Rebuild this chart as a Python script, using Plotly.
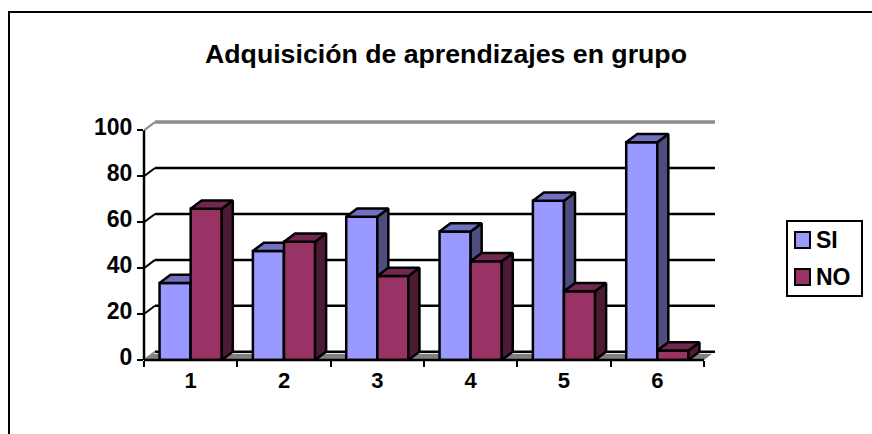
import plotly.graph_objects as go

TITLE = "Adquisición de aprendizajes en grupo"
categories = [1, 2, 3, 4, 5, 6]
si_values = [33.5, 47.5, 62.4, 56, 69.3, 94.8]
no_values = [65.9, 51.5, 36.6, 43, 29.9, 4.1]
y_ticks = [0, 20, 40, 60, 80, 100]

SI_COLORS = ("#9999FF", "#7070C0", "#4D4D80")
NO_COLORS = ("#993366", "#732650", "#4D1A33")

BAR_W = 1 / 3
DX = 0.118  # depth of the 3d look, in axis units
DY = 3.6
X_MIN, X_MAX = 0.5, 6.5
Y_TOP = 108  # head room so the top wall line is not clipped
LW = 2.5

# plot area in pixels
PLOT_L, PLOT_R, PLOT_T, PLOT_B = 144, 715, 112, 360


def px(x):
    return (x - PLOT_L) / (PLOT_R - PLOT_L)


def py(y):
    return (PLOT_B - y) / (PLOT_B - PLOT_T)


def top_face(left, values):
    xs, ys = [], []
    for c, v in zip(categories, values):
        x0 = c + left
        xs += [x0, x0 + DX, x0 + BAR_W + DX, x0 + BAR_W, x0, None]
        ys += [v, v + DY, v + DY, v, v, None]
    return xs, ys


def side_face(left, values):
    xs, ys = [], []
    for c, v in zip(categories, values):
        x1 = c + left + BAR_W
        xs += [x1, x1 + DX, x1 + DX, x1, x1, None]
        ys += [0, DY, v + DY, v, 0, None]
    return xs, ys


def face(xs, ys, color, axes):
    return go.Scatter(x=xs, y=ys, mode="lines", fill="toself", fillcolor=color,
                      line=dict(color="black", width=LW), hoverinfo="skip",
                      xaxis="x" + axes, yaxis="y" + axes)


fig = go.Figure()

# SI goes on the first axes, NO on an overlay so it covers the SI side faces
fig.add_trace(go.Bar(x=categories, y=si_values, name="SI", width=BAR_W, offset=-BAR_W,
                     marker=dict(color=SI_COLORS[0], line=dict(color="black", width=LW))))
fig.add_trace(face(*side_face(-BAR_W, si_values), SI_COLORS[2], ""))
fig.add_trace(face(*top_face(-BAR_W, si_values), SI_COLORS[1], ""))
fig.add_trace(go.Bar(x=categories, y=no_values, name="NO", width=BAR_W, offset=0,
                     xaxis="x2", yaxis="y2",
                     marker=dict(color=NO_COLORS[0], line=dict(color="black", width=LW))))
fig.add_trace(face(*side_face(0, no_values), NO_COLORS[2], "2"))
fig.add_trace(face(*top_face(0, no_values), NO_COLORS[1], "2"))

# floor and back wall
floor_top = DY * 0.75
fig.add_shape(type="path", xref="x", yref="y", layer="below", fillcolor="#808080",
              line=dict(width=0),
              path=f"M{X_MIN},0 L{X_MIN + DX * 0.75},{floor_top} L{X_MAX + DX * 0.75},{floor_top} L{X_MAX},0 Z")
for t in y_ticks:
    color = "#8C8C8C" if t == 100 else "black"
    fig.add_shape(type="line", xref="x", yref="y", layer="below",
                  x0=X_MIN + DX, x1=X_MAX + DX, y0=t + DY, y1=t + DY,
                  line=dict(color=color, width=3.5 if t == 100 else 2.5))
    fig.add_shape(type="line", xref="x", yref="y", layer="below",
                  x0=X_MIN, x1=X_MIN + DX, y0=t, y1=t + DY,
                  line=dict(color="#8C8C8C" if t in (0, 100) else "black", width=2))

# front axis lines end before the depth offset; paper refs so they are not clipped
x_end = (X_MAX - X_MIN) / (X_MAX + DX - X_MIN)
fig.add_shape(type="line", xref="paper", yref="paper", x0=0, x1=x_end, y0=0, y1=0,
              line=dict(color="black", width=LW))
fig.add_shape(type="line", xref="paper", yref="paper", x0=0, x1=0, y0=0, y1=100 / Y_TOP,
              line=dict(color="black", width=LW))

# outer frame of the picture, only top and left show
fig.add_shape(type="path", xref="paper", yref="paper",
              path=f"M{px(9)},{py(440)} L{px(9)},{py(12)} L{px(880)},{py(12)}",
              line=dict(color="black", width=2))

# legend box
fig.add_shape(type="rect", xref="paper", yref="paper", x0=px(787), x1=px(862), y0=py(296), y1=py(221),
              fillcolor="white", line=dict(color="black", width=2))
for name, color, y in [("SI", SI_COLORS[0], 240), ("NO", NO_COLORS[0], 277)]:
    fig.add_shape(type="rect", xref="paper", yref="paper", x0=px(795), x1=px(810),
                  y0=py(y + 8), y1=py(y - 8), fillcolor=color, line=dict(color="black", width=2))
    fig.add_annotation(text=f"<b>{name}</b>", xref="paper", yref="paper", x=px(814), y=py(y),
                       xanchor="left", yanchor="middle", showarrow=False,
                       font=dict(family="Liberation Sans", size=23, color="black"))

axis_range_x = [X_MIN, X_MAX + DX]
axis_range_y = [0, Y_TOP]
fig.update_layout(
    width=872, height=434, showlegend=False,
    paper_bgcolor="white", plot_bgcolor="white",
    margin=dict(l=PLOT_L, r=872 - PLOT_R, t=PLOT_T, b=434 - PLOT_B),
    font=dict(family="Liberation Sans", size=22, color="black", weight="bold"),
    title=dict(text=TITLE, x=446 / 872, xanchor="center", y=1 - 54 / 434, yanchor="middle",
               font=dict(size=26.7, weight="bold")),
    xaxis=dict(range=axis_range_x, tickmode="array", tickvals=categories, ticks="",
               showgrid=False, zeroline=False, showline=False, ticklabelstandoff=5,
               tickfont=dict(size=22, weight="bold"),
               minor=dict(tickmode="array", tickvals=[x + 0.5 for x in [0] + categories],
                          ticks="outside", ticklen=6, tickwidth=2, tickcolor="black")),
    yaxis=dict(range=axis_range_y, tickmode="array", tickvals=y_ticks, ticks="outside",
               ticklen=6, tickwidth=2, tickcolor="black", showgrid=False, zeroline=False,
               showline=False, ticklabelshift=-3, tickfont=dict(size=23, weight="bold")),
    xaxis2=dict(range=axis_range_x, overlaying="x", visible=False),
    yaxis2=dict(range=axis_range_y, overlaying="y", visible=False),
)

fig.write_html("out.html", post_script="document.body.style.margin = '0';",
               config={"displayModeBar": False})
